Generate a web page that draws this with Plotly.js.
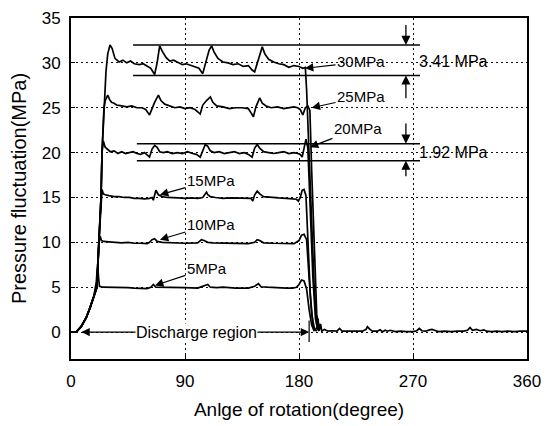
<!DOCTYPE html>
<html>
<head>
<meta charset="utf-8">
<script src="https://cdn.plot.ly/plotly-3.0.1.min.js"></script>
<style>html,body{margin:0;padding:0;background:#fff;}#chart{width:551px;height:426px;}</style>
</head>
<body>
<div id="chart"></div>
<script>
// ---- data (angle in degrees, pressure in MPa) ----
const x30 = [0,4,8,12,15,18,20.5,22,23.7,24.5,26,27.6,29,30.8,32.5,34.7,38,41,44,47,50,54,57,60,63,66,68,70,72,75,78,81,85,88,91,95,98,101,104,107,109,111,113,116,120,124,128,132,136,140,143,145,148,151,153,156,160,164,168,172,176,180,183,185,186,188,190,192,194,196];
const y30 = [0,0,0.6,1.6,2.7,4.0,5,10,15,20,25,29,31,32.0,31.6,30.5,30.1,30.3,30.0,30.2,29.9,29.8,29.9,29.6,29.4,28.7,30.0,31.9,31.3,30.6,30.2,30.3,30.0,29.8,29.9,29.7,29.6,29.4,28.8,30.5,31.4,31.9,31.2,30.5,30.1,30.0,29.8,29.9,29.6,29.7,29.2,29.0,30.5,31.8,31.0,30.4,30.1,29.9,29.8,29.5,29.7,29.6,29.4,29.5,27,20,12,5,0.8,0.1];

const x25 = [0,4,8,12,15,18,20.5,22,23.7,24.5,26,27,28,29,30.5,32,34,36,40,44,48,52,56,59,62,64,66,69,71,74,78,82,86,90,94,98,102,104,107,110,112,115,120,125,130,135,140,144,146,149,151,154,158,163,168,172,176,179,181,183,185,187,188.6,190,192,194,196];
const y25 = [0,0,0.6,1.6,2.7,4.0,5,10,15,20,25,25.8,26.2,26.4,25.9,25.6,25.5,25.3,25.2,25.1,25.2,25.0,25.0,24.8,24.2,24.9,25.6,26.4,25.8,25.4,25.2,25.0,25.1,24.9,25.0,24.8,24.3,25.3,25.8,26.2,25.6,25.2,25.1,24.9,25.0,25.0,24.9,24.0,25.1,26.1,25.5,25.2,25.0,25.1,24.9,25.0,25.1,25.0,24.8,24.2,25.0,25.2,24.7,18,9,2,0.2];

const x20 = [0,4,8,12,15,18,20.5,22,23.7,24.5,25.5,27,29,31,34,37,40,43,46,49,52,55,58,60,62,64,66,68,70,73,76,80,84,88,92,96,99,102,104,106,108,110,113,117,121,125,129,133,137,140,143,145,147,149,152,156,160,164,168,172,176,179,181,182.5,184,185.5,187,189,191,193,195];
const y20 = [0,0,0.6,1.6,2.7,4.0,5,10,15,20,21.3,20.6,20.3,20.1,20.2,19.9,20.1,19.9,20.0,20.1,19.9,19.8,20.0,19.8,19.5,20.4,20.8,20.6,20.1,20.0,20.1,19.9,20.0,19.9,20.1,19.9,19.8,19.5,20.3,20.9,20.7,20.2,20.0,20.1,19.9,20.0,20.1,19.9,20.0,19.8,19.5,20.5,20.9,20.5,20.1,20.0,19.9,20.0,20.1,19.9,20.0,19.9,19.8,19.5,20.6,21.5,20.5,14,6,1.5,0.2];

const x15 = [0,4,8,12,15,18,20.5,22,23.7,24.5,25.5,27,30,34,38,42,46,50,54,58,62,64,65,66,67,69,72,76,80,85,90,95,100,104,106,107,108,110,114,120,126,132,138,142,143.5,145,147,149,152,158,164,170,175,178,179.5,181,182.5,184,185.5,187,189,191,193];
const y15 = [0,0,0.6,1.6,2.7,4.0,5,10,15,15.9,15.4,15.3,15.2,15.1,15.1,15.0,15.0,14.9,14.9,14.85,14.9,15.0,14.7,15.4,15.8,15.3,15.1,15.0,15.0,14.95,14.9,14.95,14.9,15.0,15.4,15.6,15.3,15.1,15.0,14.9,14.95,14.9,14.85,14.9,14.6,15.3,15.7,15.4,15.1,15.0,14.95,14.9,14.85,14.8,14.6,15.0,15.8,15.9,15.2,10,4,0.8,0.1];

const x10 = [0,4,8,12,15,18,20.5,22,23,24,26,30,35,40,45,50,55,60,62,64,66,68,72,80,90,100,103,105,108,112,120,130,140,145,147,149,152,160,170,176,180,182,184,186,188,190,192,194];
const y10 = [0,0,0.6,1.6,2.7,4.0,5,10,10.7,10.2,10.1,10.05,10.0,9.95,10.0,9.9,9.9,9.85,10.0,10.3,10.4,10.1,10.0,9.95,9.9,9.95,10.3,10.2,10.0,9.95,9.9,9.9,9.85,10.0,10.3,10.2,9.95,9.9,9.9,9.85,10.2,10.8,10.9,10.3,6,2,0.5,0.1];

const x5 = [0,4,8,12,15,18,20,21,21.8,22.5,25,30,35,40,45,50,55,60,63,65,67,70,75,80,90,100,105,108,110,115,120,130,140,145,148,150,155,160,170,175,178,180,182,184,186,188,190,192];
const y5 = [0,0,0.6,1.6,2.7,4.0,5.6,7.6,6.0,5.1,5.0,5.0,4.95,5.0,4.95,4.9,4.9,4.85,5.0,5.3,5.0,5.0,4.95,5.0,4.95,4.9,5.1,5.3,5.0,4.95,5.0,4.9,4.9,5.1,5.4,5.05,5.0,4.95,4.9,4.9,5.0,5.3,5.8,5.7,4.8,2.5,0.8,0.1];

// suction side (all curves overlap near zero)
const xBase = [194,195,196,197,198,200,203,206,210,212,214,218,222,226,230,233,234,236,238,242,244,246,248,250,252,256,260,265,270,273,275,277,280,283,285,287,290,295,300,305,310,313,315,317,320,323,326,328,332,336,340,345,350,355,360];
const yBase = [0.3,1.5,0.2,0.9,0.1,0.3,0.1,0.15,0.1,0.4,0.1,0.1,0.05,0.1,0.1,0.3,0.6,0.3,0.1,0.1,0.25,0.05,0.2,0.1,0.2,0.05,0.1,0.05,0.05,0.15,0.4,0.15,0.1,0.25,0.3,0.2,0.05,0.1,0.05,0.1,0.1,0.2,0.5,0.2,0.3,0.15,0.25,0.1,0.05,0.1,0.05,0.1,0.05,0.1,0.1];

const xTicks = [0, 90, 180, 270, 360];
const yTicks = [0, 5, 10, 15, 20, 25, 30, 35];

// curve labels: text, arrow tip (x,y), text centre (x,y)
const labelText = ['30MPa', '25MPa', '20MPa', '15MPa', '10MPa', '5MPa'];
const labelTipX = [184.7, 190, 188.6, 70.2, 70.2, 66.3];
const labelTipY = [29.4, 25.0, 20.6, 15.3, 10.3, 5.2];
const labelPosX = [229, 229, 226.5, 110.5, 110.5, 107.3];
const labelPosY = [30.1, 26.2, 22.7, 16.9, 12.0, 7.1];

// amplitude bands
const bandLevels = [32.0, 28.6, 21.0, 19.1];
const bandStart = [49, 49, 52, 52];
const bandEnd = 275.5;
const bandText = ['3.41 MPa', '1.92 MPa'];
const bandTextY = [30.1, 20.0];
const dimX = 264.4;
const dimArrowTail = [34.4, 25.9, 23.4, 17.2];
const dimArrowTip = [32.0, 28.6, 21.0, 19.1];

const regionStart = 7, regionEnd = 188;

// ---- build ----
const font = 'Liberation Sans, Arial, sans-serif';
const series = [[x30,y30],[x25,y25],[x20,y20],[x15,y15],[x10,y10],[x5,y5],[xBase,yBase]];
const traces = series.map(s => ({
  x: s[0], y: s[1], type: 'scatter', mode: 'lines',
  line: {color: '#000', width: 1.7}, hoverinfo: 'skip', showlegend: false
}));

const annotations = [];
labelText.forEach((t, i) => {
  annotations.push({
    x: labelTipX[i], y: labelTipY[i], xref: 'x', yref: 'y',
    ax: labelPosX[i], ay: labelPosY[i], axref: 'x', ayref: 'y',
    text: t, showarrow: true, arrowhead: 2, arrowsize: 1.4, arrowwidth: 1.2,
    arrowcolor: '#000', standoff: 0,
    font: {family: font, size: 15, color: '#000'}
  });
});
dimArrowTail.forEach((tail, i) => {
  annotations.push({
    x: dimX, y: dimArrowTip[i], xref: 'x', yref: 'y',
    ax: dimX, ay: tail, axref: 'x', ayref: 'y',
    text: '', showarrow: true, arrowhead: 2, arrowsize: 1.4, arrowwidth: 1.3,
    arrowcolor: '#000', standoff: 0
  });
});
bandText.forEach((t, i) => {
  annotations.push({
    x: 273, y: bandTextY[i], xref: 'x', yref: 'y', xanchor: 'left',
    text: t, showarrow: false, font: {family: font, size: 16, color: '#000'}
  });
});
annotations.push({
  x: regionEnd, y: 0, xref: 'x', yref: 'y',
  ax: regionStart, ay: 0, axref: 'x', ayref: 'y',
  text: '', showarrow: true, arrowhead: 2, startarrowhead: 2, arrowside: 'end+start',
  arrowsize: 1.4, startarrowsize: 1.4, arrowwidth: 1.2, arrowcolor: '#000', standoff: 0, startstandoff: 0
});
annotations.push({
  x: 99, y: 0, xref: 'x', yref: 'y', text: 'Discharge region', showarrow: false,
  bgcolor: '#fff', borderpad: 0, font: {family: font, size: 16, color: '#000'}
});

const shapes = bandLevels.map((v, i) => ({
  type: 'line', xref: 'x', yref: 'y', x0: bandStart[i], x1: bandEnd, y0: v, y1: v,
  line: {color: '#000', width: 1.5}
}));
shapes.push({type: 'line', xref: 'x', yref: 'y', x0: regionEnd, x1: regionEnd, y0: -1.1, y1: 1.3,
  line: {color: '#000', width: 1.2}});

const axisCommon = {
  showline: true, mirror: true, linecolor: '#000', linewidth: 2,
  showgrid: true, gridcolor: '#111', griddash: '1.5px,3.5px', gridwidth: 1,
  zeroline: false, ticks: 'inside', ticklen: 4, tickcolor: '#000',
  tickfont: {family: font, size: 17, color: '#000'}
};

const layout = {
  width: 551, height: 426,
  margin: {l: 71, r: 24, t: 18, b: 67},
  paper_bgcolor: '#fff', plot_bgcolor: '#fff',
  showlegend: false,
  xaxis: Object.assign({}, axisCommon, {
    range: [0, 360], tickvals: xTicks, ticklabelstandoff: 6,
    title: {text: 'Anlge of rotation(degree)', font: {family: font, size: 19, color: '#000'}, standoff: 12}
  }),
  yaxis: Object.assign({}, axisCommon, {
    range: [-3, 35], tickvals: yTicks, ticklabelstandoff: 5,
    title: {text: 'Pressure fluctuation(MPa)', font: {family: font, size: 20, color: '#000'}, standoff: 10}
  }),
  annotations: annotations,
  shapes: shapes
};

Plotly.newPlot('chart', traces, layout, {displayModeBar: false, staticPlot: true});
</script>
</body>
</html>
